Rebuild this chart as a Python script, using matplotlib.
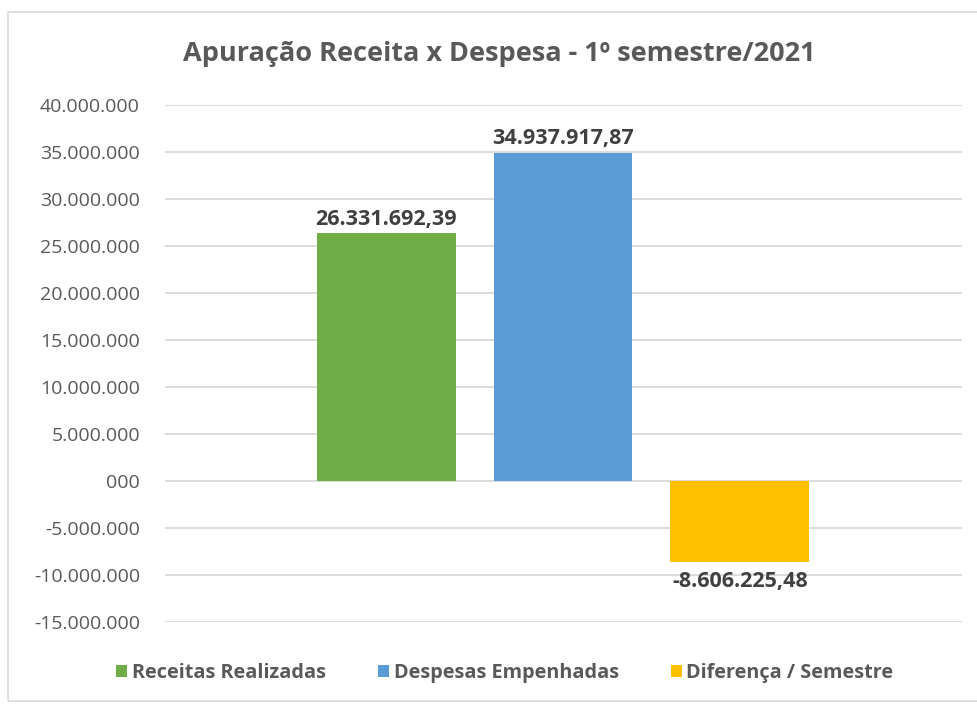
import matplotlib.pyplot as plt
from matplotlib.patches import Rectangle

# data
series = ["Receitas Realizadas", "Despesas Empenhadas", "Diferença / Semestre"]
values = [26331692.39, 34937917.87, -8606225.48]
value_labels = ["26.331.692,39", "34.937.917,87", "-8.606.225,48"]
colors = ["#70ad47", "#5b9bd5", "#ffc000"]
yticks = [-15e6, -10e6, -5e6, 0, 5e6, 10e6, 15e6, 20e6, 25e6, 30e6, 35e6, 40e6]
ytick_labels = ["-15.000.000", "-10.000.000", "-5.000.000", "000", "5.000.000",
                "10.000.000", "15.000.000", "20.000.000", "25.000.000",
                "30.000.000", "35.000.000", "40.000.000"]
title = "Apuração Receita x Despesa - 1º semestre/2021"

plt.rcParams["font.family"] = ["Open Sans", "DejaVu Sans"]

W, H = 977, 705
fig = plt.figure(figsize=(W / 100, H / 100), dpi=100)
ax = fig.add_axes([165 / W, 1 - 622 / H, (962 - 165) / W, (622 - 105) / H])

# chart border
fig.patches.append(Rectangle((8 / W, 0.005), 1.2, 1 - 12 / H - 0.005,
                             transform=fig.transFigure, fill=False,
                             edgecolor="#d9d9d9", lw=1.2))

xs = [0, 1, 2]
for x, v, c, s in zip(xs, values, colors, series):
    ax.bar(x, v, width=0.785, color=c, label=s, zorder=3)

for x, v, lab in zip(xs, values, value_labels):
    if v >= 0:
        ax.text(x, v + 0.4e6, lab, ha="center", va="bottom", fontsize=15.5,
                fontweight="bold", color="#404040")
    else:
        ax.text(x, v - 1.0e6, lab, ha="center", va="top", fontsize=15.5,
                fontweight="bold", color="#404040")

ax.set_xlim(-1.251, 3.257)
ax.set_ylim(-15e6, 40e6)
ax.set_yticks(yticks)
ax.set_yticklabels(ytick_labels)
ax.set_xticks([])
ax.tick_params(axis="y", length=0, pad=18, labelsize=14, labelcolor="#595959")
ax.grid(axis="y", color="#d9d9d9", lw=1.3, zorder=0)
for sp in ax.spines.values():
    sp.set_visible(False)

fig.text(499 / W, 1 - 54 / H, title, ha="center", va="center", fontsize=19.5,
         fontweight="bold", color="#595959")

fig.legend(loc="center", bbox_to_anchor=(505 / W, 1 - 673 / H), ncol=3,
           frameon=False, handlelength=0.55, handleheight=0.55,
           handletextpad=0.25, columnspacing=2.6, labelcolor="#595959",
           prop={"weight": "bold", "size": 14.3})

fig.savefig("out.png", dpi=100)
